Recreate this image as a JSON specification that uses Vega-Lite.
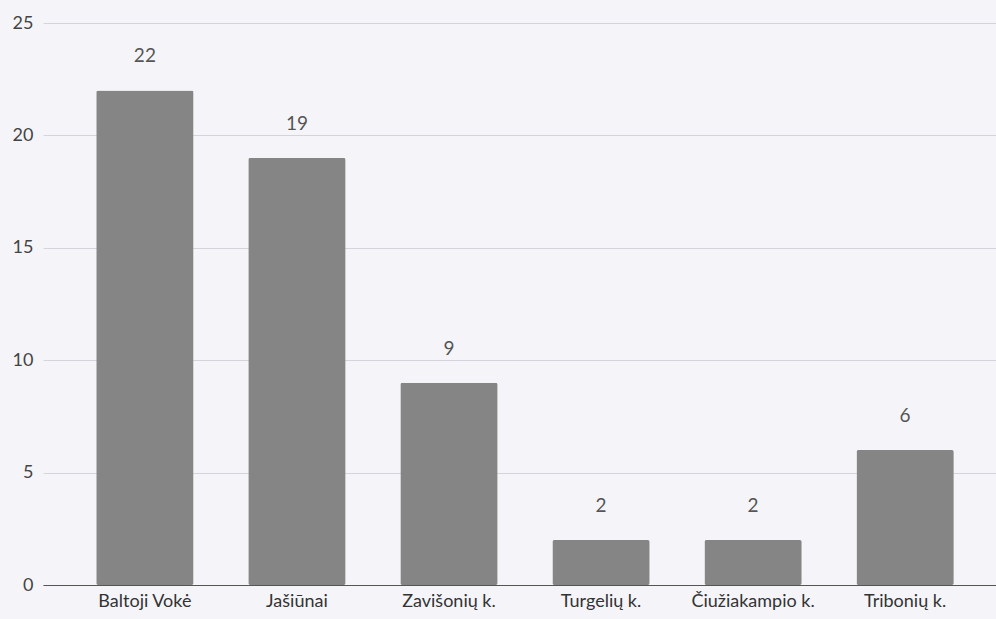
{
  "$schema": "https://vega.github.io/schema/vega-lite/v6.json",
  "width": 964,
  "height": 562,
  "autosize": "none",
  "padding": {"left": 43, "top": 23, "right": 0, "bottom": 34},
  "background": "#f5f5f9",
  "config": {"view": {"stroke": null}, "font": "Lato"},
  "data": {"values": [
    {"vieta": "Baltoji Vokė", "n": 22},
    {"vieta": "Jašiūnai", "n": 19},
    {"vieta": "Zavišonių k.", "n": 9},
    {"vieta": "Turgelių k.", "n": 2},
    {"vieta": "Čiužiakampio k.", "n": 2},
    {"vieta": "Tribonių k.", "n": 6}
  ]},
  "encoding": {
    "x": {"field": "vieta", "type": "nominal", "sort": null,
      "scale": {"paddingInner": 0.36, "paddingOuter": 0.35},
      "axis": {"title": null, "labelAngle": 0, "labelFontSize": 18, "labelColor": "#333333", "ticks": false, "labelPadding": 7, "domainColor": "#555555", "domainWidth": 1.2}},
    "y": {"field": "n", "type": "quantitative",
      "scale": {"domain": [0, 25]},
      "axis": {"title": null, "values": [0, 5, 10, 15, 20, 25], "labelFontSize": 18, "labelColor": "#444444", "ticks": false, "labelPadding": 10, "domain": false, "gridColor": "#d4d4dc", "gridWidth": 1}}
  },
  "layer": [
    {"mark": {"type": "bar", "color": "#858585", "cornerRadius": 2}},
    {"mark": {"type": "text", "baseline": "bottom", "dy": -24, "fontSize": 19, "color": "#555555"},
     "encoding": {"text": {"field": "n", "type": "quantitative"}}}
  ]
}
